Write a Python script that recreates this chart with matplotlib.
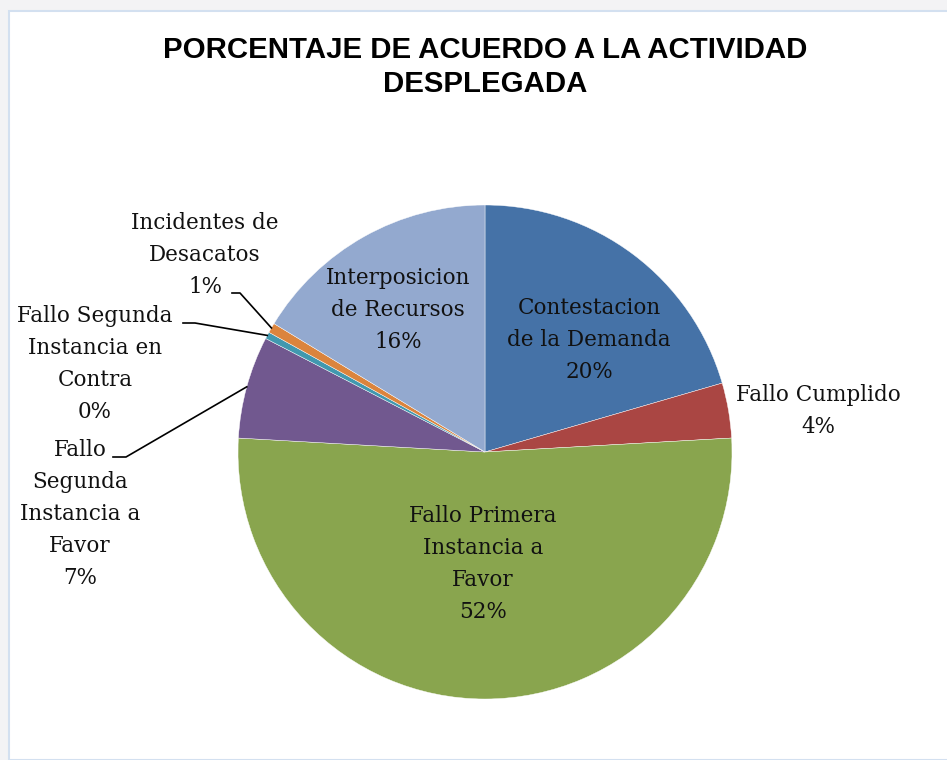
import numpy as np
import matplotlib.pyplot as plt
from matplotlib.patches import Rectangle

# Data (percentages)
categories = ['Contestacion\nde la Demanda', 'Fallo Cumplido',
              'Fallo Primera\nInstancia a\nFavor',
              'Fallo\nSegunda\nInstancia a\nFavor',
              'Fallo Segunda\nInstancia en\nContra',
              'Incidentes de\nDesacatos',
              'Interposicion\nde Recursos']
values = [20.5, 3.6, 51.8, 6.7, 0.45, 0.65, 16.3]
colors = ['#4572a7', '#aa4643', '#89a54e', '#71588f', '#4198af', '#db843d', '#93a9cf']

W, H = 947, 760
fig = plt.figure(figsize=(W / 100, H / 100), dpi=100)
fig.patch.set_facecolor('#f3f3f5')

# white chart area with light border
fig.add_artist(Rectangle((9 / W, 0), 1, 1 - 11 / H, transform=fig.transFigure,
                         facecolor='white', edgecolor='#d3e0f0', linewidth=1.5,
                         zorder=-10))

cx, cy, r = 485, 452, 247
ax = fig.add_axes([(cx - r) / W, (H - cy - r) / H, 2 * r / W, 2 * r / H])

wedges, _ = ax.pie(values, colors=colors, startangle=90, counterclock=False,
                   radius=1, wedgeprops=dict(edgecolor='white', linewidth=0.3))
ax.set_xlim(-1, 1)
ax.set_ylim(-1, 1)
ax.axis('off')

total = sum(values)
pcts = [f'{round(v / total * 100):.0f}%' for v in values]


def px(x, y):
    return (x - cx) / r, (cy - y) / r


# label centres (pixels)
label_pos = [(589, 340), (818, 411), (483, 564), (80, 514),
             (95, 364), (205, 255), (398, 310)]
font = dict(family='DejaVu Serif', fontsize=15.5, color='#111111',
            ha='center', va='center', linespacing=1.6)
for cat, p, pos in zip(categories, pcts, label_pos):
    ax.text(*px(*pos), cat + '\n' + p, clip_on=False, **font)

# leader lines for the small slices: (slice index, label anchor px, elbow px)
leaders = [(5, (232, 293), (240, 293)),
           (4, (183, 323), (195, 323)),
           (3, (113, 457), (126, 457))]
for i, a, e in leaders:
    w = wedges[i]
    ang = np.deg2rad((w.theta1 + w.theta2) / 2)
    ex, ey = np.cos(ang), np.sin(ang)
    xs = [px(*a)[0], px(*e)[0], ex]
    ys = [px(*a)[1], px(*e)[1], ey]
    ax.plot(xs, ys, color='black', linewidth=1.2, clip_on=False)

fig.text(485 / W, 1 - 67 / H, 'PORCENTAJE DE ACUERDO A LA ACTIVIDAD\nDESPLEGADA',
         ha='center', va='center', fontsize=21.2, fontweight='bold',
         family='Liberation Sans', linespacing=1.3)

fig.savefig('out.png', dpi=100)
